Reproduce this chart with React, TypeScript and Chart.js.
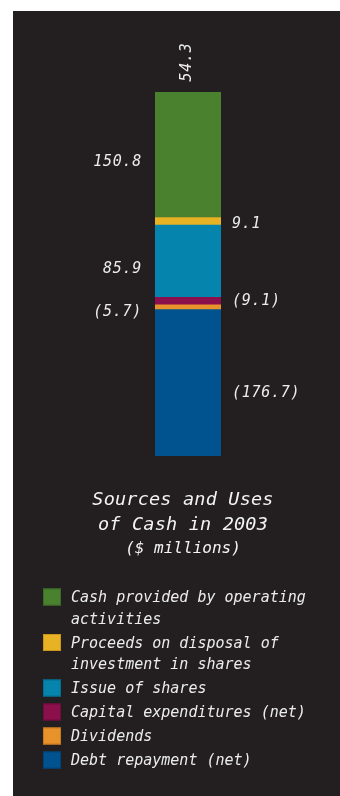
import { useEffect, useRef } from "react";
import { Chart, registerables } from "chart.js";

Chart.register(...registerables);

// Cash flow items for 2003 ($ millions); negatives are uses of cash
const categories = [
  "Cash provided by operating activities",
  "Proceeds on disposal of investment in shares",
  "Issue of shares",
  "Capital expenditures (net)",
  "Dividends",
  "Debt repayment (net)",
];
const legendLines = [
  ["Cash provided by operating", "activities"],
  ["Proceeds on disposal of", "investment in shares"],
  ["Issue of shares"],
  ["Capital expenditures (net)"],
  ["Dividends"],
  ["Debt repayment (net)"],
];
const cashFlows = [150.8, 9.1, 85.9, -9.1, -5.7, -176.7];
const fillColors = ["#4a812f", "#e7b325", "#0584ae", "#8b0f4b", "#e7922a", "#00538f"];
const edgeColors = ["#3c6a26", "#c9961a", "#046d90", "#6e0b3b", "#c97a1f", "#004477"];
const titleLines = ["Sources and Uses", "of Cash in 2003"];
const unitLine = "($ millions)";

// Positives stack upward from zero (issue of shares first), negatives downward
const stackSequence = [2, 1, 0, 3, 4, 5];
const labelSide = ["left", "right", "left", "right", "left", "right"];
const labelNudge = [6, 1, 7, -1, 3.5, 9];

const PANEL = "#231f20";
const FONT = '"DejaVu Sans Mono", "Liberation Mono", monospace';

const fmt = (v: number) => (v < 0 ? `(${Math.abs(v).toFixed(1)})` : v.toFixed(1));

function drawText(
  ctx: CanvasRenderingContext2D,
  s: string,
  x: number,
  y: number,
  size: number,
  align: CanvasTextAlign,
  spacing = 0,
  color = "#ececec"
) {
  ctx.save();
  ctx.font = `italic ${size}px ${FONT}`;
  (ctx as any).letterSpacing = `${spacing}px`;
  ctx.fillStyle = color;
  ctx.textAlign = align;
  ctx.textBaseline = "alphabetic";
  ctx.fillText(s, x, y);
  ctx.restore();
}

const annotations = {
  id: "cashAnnotations",
  afterDatasetsDraw(chart: any) {
    const ctx: CanvasRenderingContext2D = chart.ctx;
    const area = chart.chartArea;
    let barTop = Infinity;
    let barCenter = 0;

    // value labels beside each segment
    chart.data.datasets.forEach((_: any, di: number) => {
      const k = stackSequence[di];
      const el = chart.getDatasetMeta(di).data[0];
      const { x, y, base, width } = el.getProps(["x", "y", "base", "width"], true);
      barTop = Math.min(barTop, y, base);
      barCenter = x;
      const mid = (y + base) / 2 + labelNudge[k];
      const baseline = mid + 5.5;
      if (labelSide[k] === "left") {
        drawText(ctx, fmt(cashFlows[k]), x - width / 2 - 13, baseline, 15, "right", 0.7);
      } else {
        drawText(ctx, fmt(cashFlows[k]), x + width / 2 + 11, baseline, 15, "left", 0.7);
      }
    });

    // net change in cash, rotated above the bar
    const net = cashFlows.reduce((a, b) => a + b, 0);
    ctx.save();
    ctx.translate(barCenter + 2.5, barTop - 30);
    ctx.rotate(-Math.PI / 2);
    ctx.font = `italic 15px ${FONT}`;
    (ctx as any).letterSpacing = "0.7px";
    ctx.fillStyle = "#ececec";
    ctx.textAlign = "center";
    ctx.textBaseline = "alphabetic";
    ctx.fillText(net.toFixed(1), 0, 0);
    ctx.restore();

    // title block
    const tx = barCenter - 5;
    const t0 = area.bottom + 49;
    drawText(ctx, titleLines[0], tx, t0, 18.5, "center", 0.2, "#f4f4f4");
    drawText(ctx, titleLines[1], tx, t0 + 25, 18.5, "center", 0.2, "#f4f4f4");
    drawText(ctx, unitLine, tx, t0 + 48, 16, "center", 0, "#f4f4f4");

    // legend
    let lineY = area.bottom + 140.5;
    legendLines.forEach((lines, k) => {
      ctx.save();
      ctx.fillStyle = fillColors[k];
      ctx.fillRect(30, lineY - 8, 18, 17);
      ctx.strokeStyle = edgeColors[k];
      ctx.lineWidth = 1;
      ctx.strokeRect(30.5, lineY - 7.5, 17, 16);
      ctx.restore();
      lines.forEach((ln, li) => {
        drawText(ctx, ln, 58, lineY + 5.5, 15, "left", 0, "#ececec");
        if (li < lines.length - 1) lineY += 21.5;
      });
      lineY += 24;
    });
  },
};

export default function App() {
  const ref = useRef<HTMLCanvasElement>(null);

  useEffect(() => {
    if (!ref.current) return;
    const positives = cashFlows.filter((v) => v > 0).reduce((a, b) => a + b, 0);
    const negatives = cashFlows.filter((v) => v < 0).reduce((a, b) => a + b, 0);
    const chart = new Chart(ref.current, {
      type: "bar",
      data: {
        labels: [""],
        datasets: stackSequence.map((k) => ({
          label: categories[k],
          data: [cashFlows[k]],
          backgroundColor: fillColors[k],
          borderWidth: 0,
          barPercentage: 1,
          categoryPercentage: 1,
        })),
      },
      options: {
        responsive: false,
        animation: false,
        layout: { padding: { left: 142, right: 119, top: 81, bottom: 340 } },
        plugins: {
          legend: { display: false },
          tooltip: { enabled: false },
          title: { display: false },
        },
        scales: {
          x: { stacked: true, display: false },
          y: {
            stacked: true,
            display: false,
            min: Math.round(negatives * 10) / 10,
            max: Math.round(positives * 10) / 10,
          },
        },
      },
      plugins: [annotations],
    });
    return () => chart.destroy();
  }, []);

  return (
    <div
      style={{
        position: "fixed",
        left: 13,
        top: 11,
        width: 327,
        height: 785,
        background: PANEL,
      }}
    >
      <canvas ref={ref} width={327} height={785} style={{ display: "block" }} />
    </div>
  );
}
